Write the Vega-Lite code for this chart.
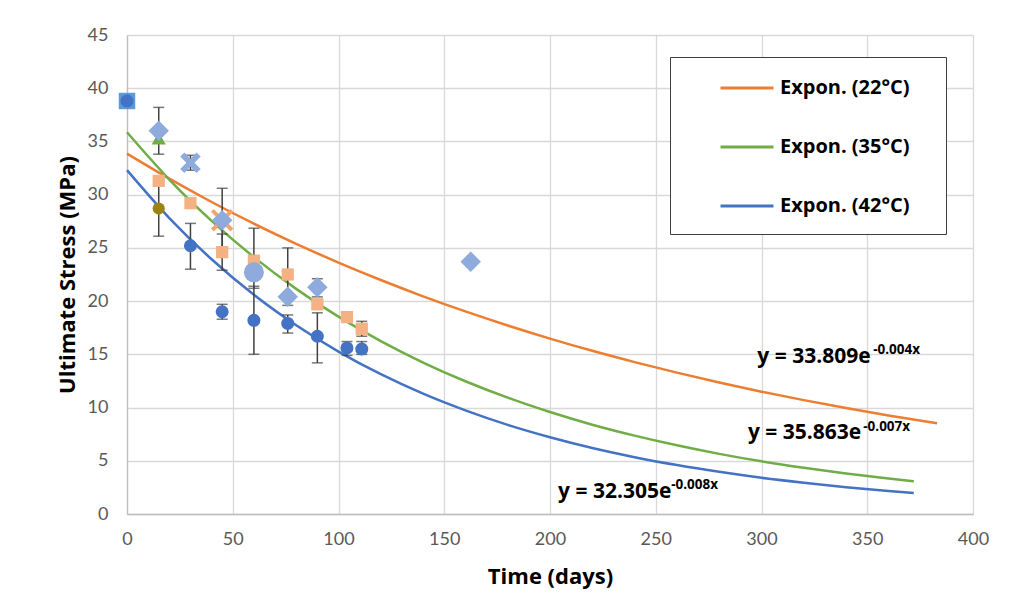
{
  "$schema": "https://vega.github.io/schema/vega-lite/v6.json",
  "width": 846,
  "height": 479,
  "autosize": {"type": "none"},
  "padding": {"left": 127, "top": 35, "right": 47, "bottom": 101},
  "background": "white",
  "config": {
    "view": {"stroke": null},
    "font": "Lato",
    "axis": {
      "labelFont": "Lato", "labelFontSize": 18, "labelColor": "#595959", "labelFlush": false,
      "titleFont": "Open Sans", "titleFontSize": 22, "titleFontWeight": "bold", "titleColor": "#000000",
      "gridColor": "#D9D9D9", "gridWidth": 1.3, "domainColor": "#BFBFBF", "domainWidth": 1.3, "ticks": false
    },
    "axisX": {"labelPadding": 16, "titlePadding": 18},
    "axisY": {"labelPadding": 19, "titlePadding": 8}
  },
  "datasets": {
    "trend": [
      {"day": 0, "stress": 33.85, "series": "Expon. (22°C)"},
      {"day": 20, "stress": 31.50, "series": "Expon. (22°C)"},
      {"day": 40, "stress": 29.31, "series": "Expon. (22°C)"},
      {"day": 60, "stress": 27.27, "series": "Expon. (22°C)"},
      {"day": 80, "stress": 25.38, "series": "Expon. (22°C)"},
      {"day": 100, "stress": 23.62, "series": "Expon. (22°C)"},
      {"day": 120, "stress": 21.98, "series": "Expon. (22°C)"},
      {"day": 140, "stress": 20.45, "series": "Expon. (22°C)"},
      {"day": 160, "stress": 19.03, "series": "Expon. (22°C)"},
      {"day": 180, "stress": 17.71, "series": "Expon. (22°C)"},
      {"day": 200, "stress": 16.48, "series": "Expon. (22°C)"},
      {"day": 220, "stress": 15.33, "series": "Expon. (22°C)"},
      {"day": 240, "stress": 14.27, "series": "Expon. (22°C)"},
      {"day": 260, "stress": 13.28, "series": "Expon. (22°C)"},
      {"day": 280, "stress": 12.35, "series": "Expon. (22°C)"},
      {"day": 300, "stress": 11.49, "series": "Expon. (22°C)"},
      {"day": 320, "stress": 10.70, "series": "Expon. (22°C)"},
      {"day": 340, "stress": 9.95, "series": "Expon. (22°C)"},
      {"day": 360, "stress": 9.26, "series": "Expon. (22°C)"},
      {"day": 383, "stress": 8.53, "series": "Expon. (22°C)"},
      {"day": 0, "stress": 35.86, "series": "Expon. (35°C)"},
      {"day": 20, "stress": 31.42, "series": "Expon. (35°C)"},
      {"day": 40, "stress": 27.54, "series": "Expon. (35°C)"},
      {"day": 60, "stress": 24.13, "series": "Expon. (35°C)"},
      {"day": 80, "stress": 21.15, "series": "Expon. (35°C)"},
      {"day": 100, "stress": 18.54, "series": "Expon. (35°C)"},
      {"day": 120, "stress": 16.24, "series": "Expon. (35°C)"},
      {"day": 140, "stress": 14.23, "series": "Expon. (35°C)"},
      {"day": 160, "stress": 12.47, "series": "Expon. (35°C)"},
      {"day": 180, "stress": 10.93, "series": "Expon. (35°C)"},
      {"day": 200, "stress": 9.58, "series": "Expon. (35°C)"},
      {"day": 220, "stress": 8.39, "series": "Expon. (35°C)"},
      {"day": 240, "stress": 7.36, "series": "Expon. (35°C)"},
      {"day": 260, "stress": 6.45, "series": "Expon. (35°C)"},
      {"day": 280, "stress": 5.65, "series": "Expon. (35°C)"},
      {"day": 300, "stress": 4.95, "series": "Expon. (35°C)"},
      {"day": 320, "stress": 4.34, "series": "Expon. (35°C)"},
      {"day": 340, "stress": 3.80, "series": "Expon. (35°C)"},
      {"day": 360, "stress": 3.33, "series": "Expon. (35°C)"},
      {"day": 372, "stress": 3.08, "series": "Expon. (35°C)"},
      {"day": 0, "stress": 32.30, "series": "Expon. (42°C)"},
      {"day": 20, "stress": 27.80, "series": "Expon. (42°C)"},
      {"day": 40, "stress": 23.93, "series": "Expon. (42°C)"},
      {"day": 60, "stress": 20.59, "series": "Expon. (42°C)"},
      {"day": 80, "stress": 17.73, "series": "Expon. (42°C)"},
      {"day": 100, "stress": 15.26, "series": "Expon. (42°C)"},
      {"day": 120, "stress": 13.13, "series": "Expon. (42°C)"},
      {"day": 140, "stress": 11.30, "series": "Expon. (42°C)"},
      {"day": 160, "stress": 9.73, "series": "Expon. (42°C)"},
      {"day": 180, "stress": 8.37, "series": "Expon. (42°C)"},
      {"day": 200, "stress": 7.21, "series": "Expon. (42°C)"},
      {"day": 220, "stress": 6.20, "series": "Expon. (42°C)"},
      {"day": 240, "stress": 5.34, "series": "Expon. (42°C)"},
      {"day": 260, "stress": 4.60, "series": "Expon. (42°C)"},
      {"day": 280, "stress": 3.96, "series": "Expon. (42°C)"},
      {"day": 300, "stress": 3.40, "series": "Expon. (42°C)"},
      {"day": 320, "stress": 2.93, "series": "Expon. (42°C)"},
      {"day": 340, "stress": 2.52, "series": "Expon. (42°C)"},
      {"day": 360, "stress": 2.17, "series": "Expon. (42°C)"},
      {"day": 372, "stress": 1.98, "series": "Expon. (42°C)"}
    ],
    "errs": [
      {"day": 15, "stress": 33.8, "hi": 38.2},
      {"day": 15, "stress": 26.1, "hi": 31.4},
      {"day": 30, "stress": 23.0, "hi": 27.3},
      {"day": 30, "stress": 32.3, "hi": 33.7},
      {"day": 45, "stress": 24.6, "hi": 30.6},
      {"day": 45, "stress": 22.9, "hi": 26.3},
      {"day": 45, "stress": 18.3, "hi": 19.7},
      {"day": 60, "stress": 21.2, "hi": 26.85},
      {"day": 60, "stress": 15.0, "hi": 21.4},
      {"day": 76, "stress": 19.6, "hi": 25.0},
      {"day": 76, "stress": 17.0, "hi": 18.7},
      {"day": 90, "stress": 20.4, "hi": 22.1},
      {"day": 90, "stress": 14.2, "hi": 18.9},
      {"day": 104, "stress": 14.9, "hi": 16.2},
      {"day": 111, "stress": 16.7, "hi": 18.1},
      {"day": 111, "stress": 15.0, "hi": 16.2}
    ],
    "points": [
      {"day": 0, "stress": 38.8, "marker": "squareblue"},
      {"day": 45, "stress": 27.6, "marker": "xorange"},
      {"day": 15, "stress": 31.3, "marker": "square"},
      {"day": 30, "stress": 29.2, "marker": "square"},
      {"day": 45, "stress": 24.6, "marker": "square"},
      {"day": 60, "stress": 23.8, "marker": "square"},
      {"day": 76, "stress": 22.5, "marker": "square"},
      {"day": 90, "stress": 19.7, "marker": "square"},
      {"day": 104, "stress": 18.5, "marker": "square"},
      {"day": 111, "stress": 17.4, "marker": "square"},
      {"day": 15, "stress": 35.3, "marker": "triangle"},
      {"day": 15, "stress": 36.0, "marker": "diamond"},
      {"day": 45, "stress": 27.6, "marker": "diamond"},
      {"day": 76, "stress": 20.4, "marker": "diamond"},
      {"day": 90, "stress": 21.3, "marker": "diamond"},
      {"day": 162.5, "stress": 23.7, "marker": "diamond"},
      {"day": 60, "stress": 22.7, "marker": "bigcircle"},
      {"day": 30, "stress": 33.0, "marker": "xmark"},
      {"day": 0, "stress": 38.8, "marker": "circle"},
      {"day": 30, "stress": 25.2, "marker": "circle"},
      {"day": 45, "stress": 19.0, "marker": "circle"},
      {"day": 60, "stress": 18.2, "marker": "circle"},
      {"day": 76, "stress": 17.9, "marker": "circle"},
      {"day": 90, "stress": 16.7, "marker": "circle"},
      {"day": 104, "stress": 15.6, "marker": "circle"},
      {"day": 111, "stress": 15.5, "marker": "circle"},
      {"day": 15, "stress": 28.7, "marker": "olive"}
    ],
    "eqmain": [
      {"day": 298, "stress": 14.75, "label": "y = 33.809e"},
      {"day": 293.6, "stress": 7.6, "label": "y = 35.863e"},
      {"day": 203.8, "stress": 2.1, "label": "y = 32.305e"}
    ],
    "eqsup": [
      {"day": 352.8, "stress": 15.4, "label": "-0.004x"},
      {"day": 348.1, "stress": 8.2, "label": "-0.007x"},
      {"day": 257.3, "stress": 2.7, "label": "-0.008x"}
    ]
  },
  "layer": [
    {
      "data": {"name": "trend"},
      "mark": {"type": "line", "strokeWidth": 2.5, "interpolate": "monotone"},
      "encoding": {
        "x": {"field": "day", "type": "quantitative", "title": "Time (days)",
              "scale": {"domain": [0, 400]}, "axis": {"values": [0, 50, 100, 150, 200, 250, 300, 350, 400]}},
        "y": {"field": "stress", "type": "quantitative", "title": "Ultimate Stress (MPa)",
              "scale": {"domain": [0, 45]}, "axis": {"values": [0, 5, 10, 15, 20, 25, 30, 35, 40, 45]}},
        "stroke": {
          "field": "series", "type": "nominal",
          "scale": {"domain": ["Expon. (22°C)", "Expon. (35°C)", "Expon. (42°C)"], "range": ["#ED7D31", "#70AD47", "#4472C4"]},
          "legend": {
            "orient": "none", "legendX": 543, "legendY": 22,
            "title": ["\u00a0", "\u00a0", "\u00a0", "\u00a0", "\u00a0", "\u00a0", "\u00a0", "\u00a0", "\u00a0", "\u00a0", "\u00a0", "\u00a0"],
            "titleOrient": "right", "titleAnchor": "start", "titleBaseline": "top",
            "titleFontSize": 12, "titleLineHeight": 14.5, "titlePadding": 33,
            "strokeColor": "#404040", "fillColor": "white", "padding": 3,
            "symbolType": "stroke", "symbolSize": 2809, "symbolStrokeWidth": 3, "symbolOffset": 46,
            "labelOffset": 5, "rowPadding": 21,
            "labelFont": "Open Sans", "labelFontWeight": "bold", "labelFontSize": 20, "labelColor": "#000000"
          }
        }
      }
    },
    {
      "data": {"name": "errs"},
      "mark": {"type": "rule", "color": "#404040", "strokeWidth": 1.5},
      "encoding": {
        "x": {"field": "day", "type": "quantitative", "title": "Time (days)"},
        "y": {"field": "stress", "type": "quantitative", "title": "Ultimate Stress (MPa)"},
        "y2": {"field": "hi"}
      }
    },
    {
      "data": {"name": "errs"},
      "mark": {"type": "tick", "orient": "horizontal", "color": "#404040", "size": 11, "thickness": 1.5},
      "encoding": {
        "x": {"field": "day", "type": "quantitative", "title": "Time (days)"},
        "y": {"field": "stress", "type": "quantitative", "title": "Ultimate Stress (MPa)"}
      }
    },
    {
      "data": {"name": "errs"},
      "mark": {"type": "tick", "orient": "horizontal", "color": "#404040", "size": 11, "thickness": 1.5},
      "encoding": {
        "x": {"field": "day", "type": "quantitative", "title": "Time (days)"},
        "y": {"field": "hi", "type": "quantitative", "title": "Ultimate Stress (MPa)"}
      }
    },
    {
      "data": {"name": "points"},
      "mark": {"type": "point", "filled": true, "opacity": 1, "strokeWidth": 0},
      "encoding": {
        "x": {"field": "day", "type": "quantitative", "title": "Time (days)"},
        "y": {"field": "stress", "type": "quantitative", "title": "Ultimate Stress (MPa)"},
        "fill": {
          "field": "marker", "type": "nominal", "legend": null,
          "scale": {
            "domain": ["squareblue", "xorange", "square", "triangle", "diamond", "bigcircle", "xmark", "circle", "olive"],
            "range": ["#5B9BD5", "#F4A46A", "#F4B183", "#70AD47", "#8FAADC", "#8FAADC", "#8FAADC", "#4472C4", "#9C8414"]
          }
        },
        "shape": {
          "field": "marker", "type": "nominal", "legend": null,
          "scale": {
            "domain": ["squareblue", "xorange", "square", "triangle", "diamond", "bigcircle", "xmark", "circle", "olive"],
            "range": ["square", "M-1,-0.75L-0.75,-1L0,-0.25L0.75,-1L1,-0.75L0.25,0L1,0.75L0.75,1L0,0.25L-0.75,1L-1,0.75L-0.25,0Z", "square", "triangle-up", "diamond", "circle", "M-1,-0.6L-0.6,-1L0,-0.4L0.6,-1L1,-0.6L0.4,0L1,0.6L0.6,1L0,0.4L-0.6,1L-1,0.6L-0.4,0Z", "circle", "circle"]
          }
        },
        "size": {
          "field": "marker", "type": "nominal", "legend": null,
          "scale": {
            "type": "ordinal",
            "domain": ["squareblue", "xorange", "square", "triangle", "diamond", "bigcircle", "xmark", "circle", "olive"],
            "range": [270, 500, 150, 200, 420, 400, 420, 170, 150]
          }
        }
      }
    },
    {
      "data": {"name": "eqmain"},
      "mark": {"type": "text", "align": "left", "baseline": "middle", "font": "Open Sans", "fontWeight": "bold", "fontSize": 21, "color": "#000000"},
      "encoding": {
        "x": {"field": "day", "type": "quantitative", "title": "Time (days)"},
        "y": {"field": "stress", "type": "quantitative", "title": "Ultimate Stress (MPa)"},
        "text": {"field": "label"}
      }
    },
    {
      "data": {"name": "eqsup"},
      "mark": {"type": "text", "align": "left", "baseline": "middle", "font": "Open Sans", "fontWeight": "bold", "fontSize": 13.5, "color": "#000000"},
      "encoding": {
        "x": {"field": "day", "type": "quantitative", "title": "Time (days)"},
        "y": {"field": "stress", "type": "quantitative", "title": "Ultimate Stress (MPa)"},
        "text": {"field": "label"}
      }
    }
  ]
}
